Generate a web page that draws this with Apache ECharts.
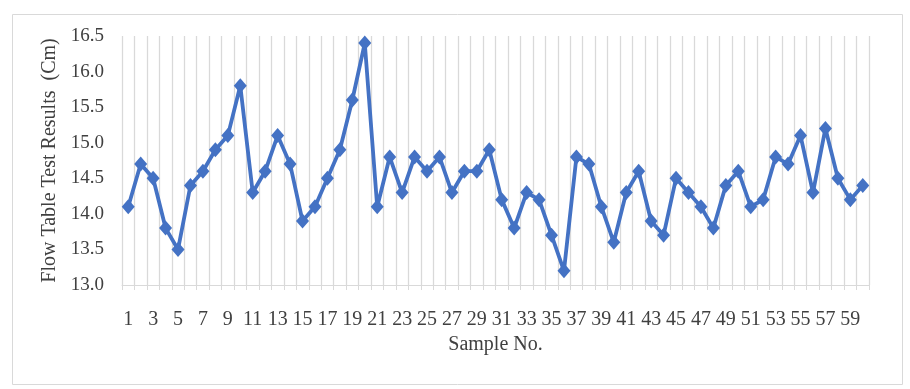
<!DOCTYPE html>
<html>
<head>
<meta charset="utf-8">
<script src="https://cdn.jsdelivr.net/npm/echarts@6/dist/echarts.min.js"></script>
<style>html,body{margin:0;padding:0;background:#fff;}#c{width:910px;height:389px;}</style>
</head>
<body>
<div id="c"></div>
<script>
const categories = Array.from({length: 60}, (_, i) => String(i + 1));
const flowValues = [
  14.1, 14.7, 14.5, 13.8, 13.5, 14.4, 14.6, 14.9, 15.1, 15.8,
  14.3, 14.6, 15.1, 14.7, 13.9, 14.1, 14.5, 14.9, 15.6, 16.4,
  14.1, 14.8, 14.3, 14.8, 14.6, 14.8, 14.3, 14.6, 14.6, 14.9,
  14.2, 13.8, 14.3, 14.2, 13.7, 13.2, 14.8, 14.7, 14.1, 13.6,
  14.3, 14.6, 13.9, 13.7, 14.5, 14.3, 14.1, 13.8, 14.4, 14.6,
  14.1, 14.2, 14.8, 14.7, 15.1, 14.3, 15.2, 14.5, 14.2, 14.4
];
const yMin = 13.0, yMax = 16.5, yStep = 0.5;

const chart = echarts.init(document.getElementById('c'), null, {renderer: 'canvas'});
const font = '"Liberation Serif", "Times New Roman", serif';
chart.setOption({
  animation: false,
  textStyle: {fontFamily: font},
  graphic: [{
    type: 'rect', left: 10, top: 12, shape: {width: 890, height: 370},
    style: {fill: 'none', stroke: '#d9d9d9', lineWidth: 1}
  }],
  grid: {left: 122, right: 41, top: 36, bottom: 104},
  xAxis: {
    type: 'category',
    data: categories,
    boundaryGap: true,
    name: 'Sample No.',
    nameLocation: 'middle',
    nameGap: 50,
    nameTextStyle: {fontSize: 20, color: '#404040', fontFamily: font},
    axisLine: {lineStyle: {color: '#d9d9d9', width: 1}},
    axisTick: {show: true, interval: 0, length: 5, lineStyle: {color: '#d9d9d9'}},
    axisLabel: {interval: 1, fontSize: 20, color: '#404040', margin: 25, fontFamily: font},
    splitLine: {show: true, interval: 0, lineStyle: {color: '#d9d9d9', width: 1.3}}
  },
  yAxis: {
    type: 'value',
    min: yMin, max: yMax, interval: yStep,
    name: 'Flow Table Test Results  (Cm)',
    nameLocation: 'middle',
    nameRotate: 90,
    nameGap: 57,
    nameTextStyle: {fontSize: 20, color: '#404040', fontFamily: font},
    axisLine: {show: false},
    axisTick: {show: false},
    axisLabel: {fontSize: 19, color: '#404040', margin: 18, fontFamily: font,
      formatter: v => v.toFixed(1)},
    splitLine: {show: false}
  },
  series: [{
    type: 'line',
    data: flowValues,
    symbol: 'diamond',
    symbolSize: [13, 15],
    showAllSymbol: true,
    lineStyle: {color: '#4472C4', width: 3.8},
    itemStyle: {color: '#4472C4'}
  }]
});
</script>
</body>
</html>
